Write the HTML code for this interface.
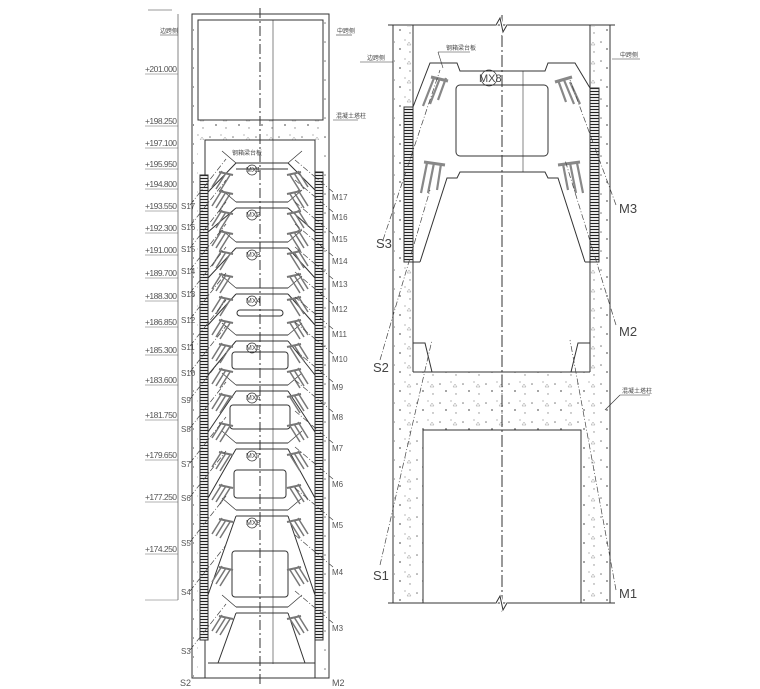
<!DOCTYPE html>
<html><head><meta charset="utf-8"><style>
html,body{margin:0;padding:0;background:#fff;}
svg{display:block;font-family:"Liberation Sans","Noto Sans CJK SC",sans-serif;}
</style></head><body>
<svg width="760" height="689" viewBox="0 0 760 689" xmlns="http://www.w3.org/2000/svg">
<defs>
<pattern id="conc" width="23" height="19" patternUnits="userSpaceOnUse">
<circle cx="3" cy="4" r="0.8" fill="#777"/><circle cx="14" cy="2" r="0.6" fill="#888"/>
<circle cx="9" cy="11" r="0.9" fill="#666"/><circle cx="19" cy="14" r="0.7" fill="#888"/>
<path d="M16 7 l2 -3 l2 3z" fill="none" stroke="#999" stroke-width="0.5"/>
</pattern>
<pattern id="hatch" width="8" height="3" patternUnits="userSpaceOnUse">
<rect width="8" height="3" fill="#fff"/><line x1="0" y1="1.5" x2="8" y2="1.5" stroke="#222" stroke-width="1.2"/>
</pattern>
<g id="tier" stroke="#333" stroke-width="1" fill="none">
<line x1="236" y1="0" x2="288" y2="0"/><line x1="236" y1="6" x2="288" y2="6"/>
<line x1="236" y1="0" x2="222" y2="-12" stroke-width="0.7"/><line x1="288" y1="0" x2="302" y2="-12" stroke-width="0.7"/>
</g>
<g id="anc" stroke="#777" stroke-width="1.5">
<line x1="222" y1="8" x2="212" y2="24"/><line x1="226" y1="10" x2="216" y2="26"/><line x1="230" y1="12" x2="220" y2="28"/>
<line x1="298" y1="8" x2="308" y2="24"/><line x1="294" y1="10" x2="304" y2="26"/><line x1="290" y1="12" x2="300" y2="28"/>
<line x1="219" y1="9" x2="233" y2="12" stroke-width="2"/><line x1="301" y1="9" x2="287" y2="12" stroke-width="2"/>
</g>
</defs>

<rect x="193" y="120" width="135" height="20" fill="url(#conc)"/>
<rect x="193" y="15" width="5" height="662" fill="url(#conc)"/>
<rect x="323" y="15" width="5" height="662" fill="url(#conc)"/>
<rect x="394" y="26" width="18" height="576" fill="url(#conc)"/>
<rect x="591" y="26" width="18" height="576" fill="url(#conc)"/>
<rect x="413" y="372" width="177" height="58" fill="url(#conc)"/>
<rect x="413" y="430" width="10" height="172" fill="url(#conc)"/>
<rect x="581" y="430" width="9" height="172" fill="url(#conc)"/>

<g stroke="#333" fill="none" stroke-width="1">
<rect x="192" y="14" width="137" height="664"/>
<rect x="198" y="20" width="125" height="100"/>
<polyline points="205,678 205,140 315,140 315,678"/>
<line x1="260" y1="8" x2="260" y2="684" stroke-dasharray="10,3,2,3"/>
<line x1="273" y1="20" x2="273" y2="664" stroke-width="0.6"/>
<line x1="178" y1="14" x2="178" y2="600" stroke-width="0.6"/>
<line x1="148" y1="10" x2="172" y2="10" stroke-width="0.6"/>
<line x1="160" y1="35" x2="178" y2="35" stroke-width="0.6"/>
<line x1="336" y1="35" x2="352" y2="35" stroke-width="0.6"/>
<line x1="333" y1="120" x2="358" y2="120" stroke-width="0.6"/>
<line x1="208" y1="663" x2="315" y2="663"/>
<!-- tier slants -->
<path d="M236,163 L208,192 M288,163 L315,190"/>
<path d="M236,208 L208,232 M288,208 L315,232"/>
<path d="M236,248 L208,278 M288,248 L315,278"/>
<path d="M236,294 L208,325 M288,294 L315,325"/>
<path d="M236,341 L208,375 M288,341 L315,375"/>
<path d="M236,391 L208,432 M288,391 L315,432"/>
<path d="M236,449 L208,498 M288,449 L315,498"/>
<path d="M236,516 L208,595 M288,516 L315,595"/>
<path d="M236,613 L218,663 M288,613 L305,663"/>
<rect x="237" y="310" width="46" height="6" rx="3"/>
<rect x="232" y="352" width="56" height="17" rx="3"/>
<rect x="230" y="405" width="60" height="24" rx="3"/>
<rect x="234" y="470" width="52" height="28" rx="3"/>
<rect x="232" y="551" width="56" height="46" rx="3"/>
<!-- RIGHT -->
<line x1="388" y1="25" x2="615" y2="25"/>
<line x1="388" y1="603" x2="615" y2="603"/>
<line x1="393" y1="25" x2="393" y2="603"/>
<line x1="413" y1="25" x2="413" y2="372"/>
<line x1="590" y1="25" x2="590" y2="372"/>
<line x1="610" y1="25" x2="610" y2="603"/>
<line x1="413" y1="372" x2="590" y2="372"/>
<polyline points="423,603 423,430 581,430 581,603"/>
<line x1="502" y1="15" x2="502" y2="612" stroke-dasharray="12,3,2,3"/>
<polyline points="496,25 500,18 503,32 507,25" stroke="#fff" stroke-width="3"/>
<polyline points="496,25 500,18 503,32 507,25"/>
<polyline points="496,603 500,596 503,610 507,603" stroke="#fff" stroke-width="3"/>
<polyline points="496,603 500,596 503,610 507,603"/>
<path d="M413,107 L430,63 L457,63 L460,71 L545,71 L548,63 L575,63 L590,88"/>
<rect x="456" y="85" width="92" height="71" rx="4"/>
<path d="M420,262 L447,178 L457,178 L460,172 L545,172 L548,178 L558,178 L585,262"/>
<line x1="413" y1="262" x2="420" y2="262"/><line x1="585" y1="262" x2="590" y2="262"/>
<line x1="523" y1="71" x2="523" y2="172" stroke-width="0.6"/>
<path d="M413,343 L425,343 L432,372 M590,343 L578,343 L571,372"/>
<line x1="360" y1="62" x2="393" y2="62" stroke-width="0.6"/>
<line x1="612" y1="59" x2="640" y2="59" stroke-width="0.6"/>
<line x1="438" y1="52" x2="470" y2="52" stroke-width="0.6"/>
<line x1="438" y1="52" x2="443" y2="68" stroke-width="0.6"/>
<line x1="620" y1="395" x2="650" y2="395" stroke-width="0.6"/>
<line x1="620" y1="395" x2="605" y2="410" stroke-width="0.6"/>
</g>

<g stroke="#333" stroke-width="1">
<rect x="404" y="107" width="9" height="155" fill="url(#hatch)"/>
<rect x="590" y="88" width="9" height="174" fill="url(#hatch)"/>
<rect x="200" y="175" width="8" height="465" fill="url(#hatch)"/>
<rect x="315" y="172" width="8" height="468" fill="url(#hatch)"/>
</g>

<g stroke="#888" stroke-width="2.2">
<line x1="434" y1="78" x2="423" y2="106"/><line x1="440" y1="78" x2="430" y2="104"/><line x1="446" y1="78" x2="438" y2="100"/>
<line x1="431" y1="77" x2="448" y2="81" stroke-width="3"/>
<line x1="570" y1="82" x2="580" y2="104"/><line x1="564" y1="80" x2="574" y2="104"/><line x1="558" y1="80" x2="566" y2="102"/>
<line x1="555" y1="82" x2="572" y2="77" stroke-width="3"/>
<line x1="427" y1="163" x2="421" y2="193"/><line x1="434" y1="163" x2="428" y2="193"/><line x1="441" y1="164" x2="437" y2="190"/>
<line x1="424" y1="162" x2="445" y2="165" stroke-width="3"/>
<line x1="577" y1="163" x2="583" y2="193"/><line x1="570" y1="163" x2="576" y2="193"/><line x1="563" y1="164" x2="568" y2="190"/>
<line x1="558" y1="165" x2="580" y2="162" stroke-width="3"/>
</g>

<use href="#tier" y="163"/><use href="#tier" y="202"/><use href="#tier" y="242"/>
<use href="#tier" y="288"/><use href="#tier" y="335"/><use href="#tier" y="385"/>
<use href="#tier" y="443"/><use href="#tier" y="510"/><use href="#tier" y="607"/>
<use href="#anc" y="163"/><use href="#anc" y="182"/>
<use href="#anc" y="202"/><use href="#anc" y="222"/>
<use href="#anc" y="242"/><use href="#anc" y="265"/>
<use href="#anc" y="288"/><use href="#anc" y="311"/>
<use href="#anc" y="335"/><use href="#anc" y="360"/>
<use href="#anc" y="385"/><use href="#anc" y="414"/>
<use href="#anc" y="443"/><use href="#anc" y="476"/>
<use href="#anc" y="510"/><use href="#anc" y="558"/>
<use href="#anc" y="607"/>

<g stroke="#444" stroke-width="0.7" stroke-dasharray="6,2,1,2" fill="none">
<line x1="383" y1="240" x2="440" y2="70"/><line x1="380" y1="360" x2="430" y2="190"/><line x1="380" y1="565" x2="432" y2="340"/>
<line x1="616" y1="205" x2="570" y2="80"/><line x1="616" y1="325" x2="565" y2="160"/><line x1="616" y1="590" x2="570" y2="340"/>
<line x1="190" y1="205" x2="226" y2="159"/><line x1="190" y1="226" x2="226" y2="180"/><line x1="190" y1="248" x2="226" y2="202"/>
<line x1="190" y1="270" x2="226" y2="224"/><line x1="190" y1="293" x2="226" y2="247"/><line x1="190" y1="319" x2="226" y2="273"/>
<line x1="190" y1="346" x2="226" y2="300"/><line x1="190" y1="372" x2="226" y2="326"/><line x1="190" y1="399" x2="226" y2="353"/>
<line x1="190" y1="428" x2="226" y2="382"/><line x1="190" y1="463" x2="226" y2="417"/><line x1="190" y1="497" x2="226" y2="451"/>
<line x1="190" y1="542" x2="226" y2="496"/><line x1="190" y1="591" x2="226" y2="545"/><line x1="190" y1="650" x2="226" y2="604"/>
<line x1="333" y1="192" x2="295" y2="160"/><line x1="333" y1="212" x2="295" y2="180"/><line x1="333" y1="234" x2="295" y2="202"/>
<line x1="333" y1="256" x2="295" y2="224"/><line x1="333" y1="279" x2="295" y2="247"/><line x1="333" y1="304" x2="295" y2="272"/>
<line x1="333" y1="329" x2="295" y2="297"/><line x1="333" y1="354" x2="295" y2="322"/><line x1="333" y1="382" x2="295" y2="350"/>
<line x1="333" y1="412" x2="295" y2="380"/><line x1="333" y1="443" x2="295" y2="411"/><line x1="333" y1="479" x2="295" y2="447"/>
<line x1="333" y1="520" x2="295" y2="488"/><line x1="333" y1="567" x2="295" y2="535"/><line x1="333" y1="623" x2="295" y2="591"/>
</g>

<g fill="none" stroke="#333" stroke-width="0.7">
<circle cx="252" cy="170" r="5"/><circle cx="252" cy="215" r="5"/><circle cx="252" cy="255" r="5"/>
<circle cx="252" cy="301" r="5"/><circle cx="252" cy="348" r="5"/><circle cx="252" cy="398" r="5"/>
<circle cx="252" cy="456" r="5"/><circle cx="252" cy="523" r="5"/>
<circle cx="489" cy="78" r="8"/>
</g>
<g font-size="7" fill="#444">
<text x="246" y="172">MX1</text><text x="246" y="217">MX2</text><text x="246" y="257">MX3</text>
<text x="246" y="303">MX4</text><text x="246" y="350">MX5</text><text x="246" y="400">MX6</text>
<text x="246" y="458">MX7</text><text x="246" y="525">MX8</text>
</g>

<g font-size="8.5" fill="#555">
<text x="145" y="72" textLength="32">+201.000</text><text x="145" y="124" textLength="32">+198.250</text><text x="145" y="146" textLength="32">+197.100</text>
<text x="145" y="167" textLength="32">+195.950</text><text x="145" y="187" textLength="32">+194.800</text><text x="145" y="209" textLength="32">+193.550</text>
<text x="145" y="231" textLength="32">+192.300</text><text x="145" y="253" textLength="32">+191.000</text><text x="145" y="276" textLength="32">+189.700</text>
<text x="145" y="299" textLength="32">+188.300</text><text x="145" y="325" textLength="32">+186.850</text><text x="145" y="353" textLength="32">+185.300</text>
<text x="145" y="383" textLength="32">+183.600</text><text x="145" y="418" textLength="32">+181.750</text><text x="145" y="458" textLength="32">+179.650</text>
<text x="145" y="500" textLength="32">+177.250</text><text x="145" y="552" textLength="32">+174.250</text>
</g>
<g stroke="#666" stroke-width="0.5">
<line x1="145" y1="74" x2="178" y2="74"/><line x1="145" y1="126" x2="178" y2="126"/><line x1="145" y1="148" x2="178" y2="148"/>
<line x1="145" y1="169" x2="178" y2="169"/><line x1="145" y1="189" x2="178" y2="189"/><line x1="145" y1="211" x2="178" y2="211"/>
<line x1="145" y1="233" x2="178" y2="233"/><line x1="145" y1="255" x2="178" y2="255"/><line x1="145" y1="278" x2="178" y2="278"/>
<line x1="145" y1="301" x2="178" y2="301"/><line x1="145" y1="327" x2="178" y2="327"/><line x1="145" y1="355" x2="178" y2="355"/>
<line x1="145" y1="385" x2="178" y2="385"/><line x1="145" y1="420" x2="178" y2="420"/><line x1="145" y1="460" x2="178" y2="460"/>
<line x1="145" y1="502" x2="178" y2="502"/><line x1="145" y1="554" x2="178" y2="554"/><line x1="145" y1="600" x2="178" y2="600"/>
</g>
<g font-size="8" fill="#555">
<text x="181" y="209">S17</text><text x="181" y="230">S16</text><text x="181" y="252">S15</text>
<text x="181" y="274">S14</text><text x="181" y="297">S13</text><text x="181" y="323">S12</text>
<text x="181" y="350">S11</text><text x="181" y="376">S10</text><text x="181" y="403">S9</text>
<text x="181" y="432">S8</text><text x="181" y="467">S7</text><text x="181" y="501">S6</text>
<text x="181" y="546">S5</text><text x="181" y="595">S4</text><text x="181" y="654">S3</text>
<text x="332" y="200">M17</text><text x="332" y="220">M16</text><text x="332" y="242">M15</text>
<text x="332" y="264">M14</text><text x="332" y="287">M13</text><text x="332" y="312">M12</text>
<text x="332" y="337">M11</text><text x="332" y="362">M10</text><text x="332" y="390">M9</text>
<text x="332" y="420">M8</text><text x="332" y="451">M7</text><text x="332" y="487">M6</text>
<text x="332" y="528">M5</text><text x="332" y="575">M4</text><text x="332" y="631">M3</text>
</g>
<g font-size="9" fill="#555"><text x="180" y="686">S2</text><text x="332" y="686">M2</text></g>

<g fill="#444">
<text x="376" y="248" font-size="13">S3</text>
<text x="373" y="372" font-size="13">S2</text>
<text x="373" y="580" font-size="13">S1</text>
<text x="619" y="213" font-size="13">M3</text>
<text x="619" y="336" font-size="13">M2</text>
<text x="619" y="598" font-size="13">M1</text>
<text x="479" y="82" font-size="11">MX8</text>
<text x="367" y="60" font-size="6">边跨侧</text>
<text x="620" y="57" font-size="6">中跨侧</text>
<text x="446" y="50" font-size="6">钢箱梁台板</text>
<text x="622" y="393" font-size="6">混凝土塔柱</text>
<text x="160" y="33" font-size="6">边跨侧</text>
<text x="337" y="33" font-size="6">中跨侧</text>
<text x="336" y="118" font-size="6">混凝土塔柱</text>
<text x="232" y="155" font-size="6">钢箱梁台板</text>
</g>
</svg>
</body></html>
